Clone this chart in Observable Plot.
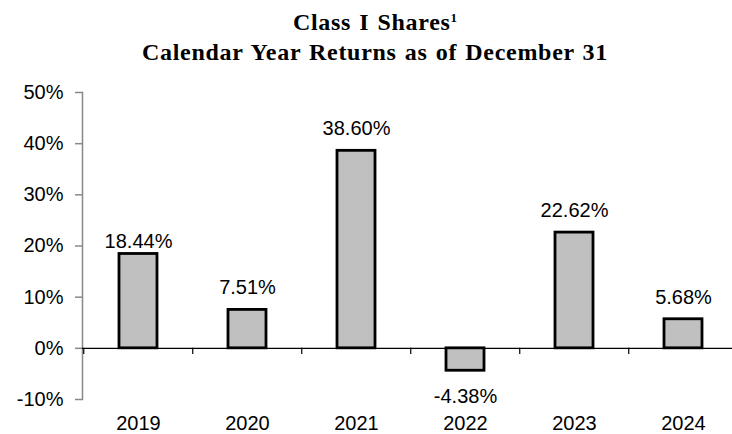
<!DOCTYPE html>
<html>
<head>
<meta charset="utf-8">
<script src="https://cdn.jsdelivr.net/npm/d3@7"></script>
<script src="https://cdn.jsdelivr.net/npm/@observablehq/plot@0.6"></script>
<style>
  body { margin: 0; background: #fff; width: 732px; height: 434px; overflow: hidden; }
  #title {
    height: 70px; box-sizing: border-box; padding-top: 7px; padding-left: 18px;
    text-align: center; font-family: "Liberation Serif", "Times New Roman", serif;
    font-weight: bold; font-size: 24px; line-height: 30px; letter-spacing: 0.7px; word-spacing: 1.5px; color: #000;
  }
  #title sup { font-size: 13px; line-height: 0; vertical-align: 8px; letter-spacing: 0; }
  #chart svg { display: block; }
</style>
</head>
<body>
<div id="title"><div>Class I Shares<sup>1</sup></div><div>Calendar Year Returns as of December 31</div></div>
<div id="chart"></div>
<script>
const years = ["2019", "2020", "2021", "2022", "2023", "2024"];
const returns = [18.44, 7.51, 38.60, -4.38, 22.62, 5.68];
const returnLabels = ["18.44%", "7.51%", "38.60%", "-4.38%", "22.62%", "5.68%"];
const yTicks = [-10, 0, 10, 20, 30, 40, 50];

const data = years.map((year, i) => ({year, value: returns[i], label: returnLabels[i]}));
const xRange = [82, 739];
const step = (xRange[1] - xRange[0]) / years.length;
const closeLabel = d => d.year === "2019";

const chart = Plot.plot({
  width: 732,
  height: 364,
  marginTop: 22,
  marginBottom: 35,
  marginLeft: 82,
  marginRight: 0,
  style: {fontFamily: "'Liberation Sans', Arial, sans-serif", fontSize: "20px", color: "#000", background: "#fff"},
  x: {domain: years, range: xRange, paddingInner: 0.65, paddingOuter: 0.325, axis: null, label: null},
  y: {domain: [-10, 50], axis: null, label: null},
  marks: [
    Plot.frame({anchor: "left", stroke: "#888", strokeWidth: 1.5}),
    Plot.axisY(yTicks, {tickSize: 7, tickPadding: 12, stroke: "#888", strokeWidth: 1.5, fill: "#000", fontSize: 20, label: null, tickFormat: d => d + "%"}),
    Plot.axisX({tickSize: 0, tickPadding: 16, fill: "#000", fontSize: 20, label: null}),
    Plot.barY(data, {x: "year", y: "value", fill: "#c0c0c0", stroke: "#000", strokeWidth: 2.8}),
    Plot.ruleY([0], {stroke: "#000", strokeWidth: 1.2}),
    Plot.ruleX(years, {x: d => d, y1: 0, y2: -1.2, dx: -step / 2, stroke: "#000", strokeWidth: 1.2}),
    Plot.text(data.filter(d => d.value >= 0 && !closeLabel(d)), {x: "year", y: "value", text: "label", dy: -22, fontSize: 20, fill: "#000"}),
    Plot.text(data.filter(d => d.value >= 0 && closeLabel(d)), {x: "year", y: "value", text: "label", dy: -12, fontSize: 20, fill: "#000"}),
    Plot.text(data.filter(d => d.value < 0), {x: "year", y: "value", text: "label", dy: 26, fontSize: 20, fill: "#000"})
  ]
});
document.getElementById("chart").appendChild(chart);
</script>
</body>
</html>
